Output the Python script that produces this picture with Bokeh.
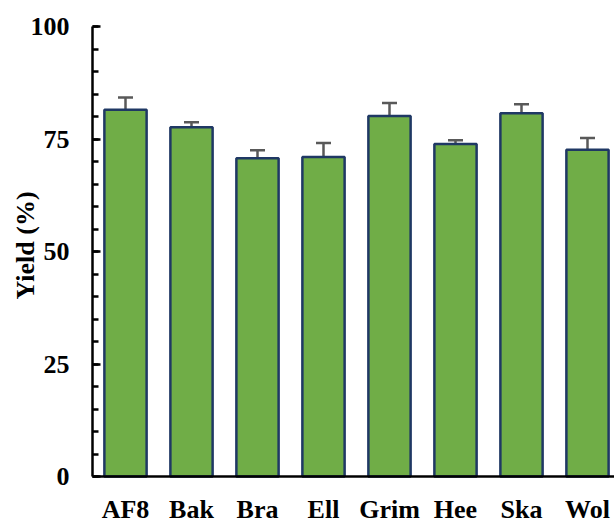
import math
from bokeh.plotting import figure
from bokeh.models import (ColumnDataSource, Range1d, FixedTicker, SingleIntervalTicker,
                          Whisker, TeeHead, Label)
from bokeh.embed import file_html
from bokeh.resources import INLINE

categories = ["AF8", "Bak", "Bra", "Ell", "Grim", "Hee", "Ska", "Wol"]
yield_pct = [81.5, 77.6, 70.7, 71.0, 80.1, 73.9, 80.7, 72.6]
yield_err = [2.7, 1.1, 1.8, 3.1, 2.9, 0.8, 2.0, 2.6]
y_ticks = [0, 25, 50, 75, 100]

xs = list(range(len(categories)))
src = ColumnDataSource(dict(
    x=xs,
    top=yield_pct,
    upper=[v + e for v, e in zip(yield_pct, yield_err)],
    lower=[v - e for v, e in zip(yield_pct, yield_err)],
))

FONT = "'Liberation Serif', 'Times New Roman', serif"

# geometry (pixels) -> ranges; the frame covers the whole canvas
W, H = 614, 519
AX_LEFT, AX_TOP, AX_BOTTOM = 92, 26, 476
px_per_cat = 66.0
px_per_unit = (AX_BOTTOM - AX_TOP) / (y_ticks[-1] - y_ticks[0])
x_lo = -0.5
x_start = x_lo - AX_LEFT / px_per_cat
x_end = x_lo + (W - AX_LEFT) / px_per_cat
y_end = y_ticks[-1] + AX_TOP / px_per_unit
y_start = y_ticks[0] - (H - AX_BOTTOM) / px_per_unit

p = figure(width=W, height=H, output_backend="svg", toolbar_location=None,
           x_range=Range1d(x_start, x_end), y_range=Range1d(y_start, y_end))
p.min_border_left = 0
p.min_border_right = 0
p.min_border_top = 0
p.min_border_bottom = 0
p.outline_line_color = None
p.xgrid.visible = False
p.ygrid.visible = False
p.background_fill_color = "white"
p.border_fill_color = "white"

p.vbar(x="x", top="top", bottom=0, width=0.64, source=src,
       fill_color="#70AD47", line_color="#1F3864", line_width=2.5)

w = Whisker(source=src, base="x", upper="upper", lower="lower",
            line_color="#595959", line_width=2.5,
            upper_head=TeeHead(size=15, line_color="#595959", line_width=2.5),
            lower_head=TeeHead(size=15, line_color="#595959", line_width=2.5))
p.add_layout(w)

# x axis pinned at y = 0
xa = p.xaxis[0]
xa.fixed_location = y_ticks[0]
xa.bounds = (x_lo, x_end)
xa.ticker = FixedTicker(ticks=xs)
xa.major_label_overrides = {i: c for i, c in zip(xs, categories)}
xa.major_tick_line_color = None
xa.minor_tick_line_color = None
xa.axis_line_color = "black"
xa.axis_line_width = 2.5
xa.major_label_standoff = 12
xa.major_label_text_font = FONT
xa.major_label_text_font_style = "bold"
xa.major_label_text_font_size = "26px"
xa.major_label_text_color = "black"

# y axis pinned at the left edge of the first category
ya = p.yaxis[0]
ya.fixed_location = x_lo
ya.bounds = (y_ticks[0], y_ticks[-1])
ya.ticker = SingleIntervalTicker(interval=25, num_minor_ticks=5)
ya.axis_line_color = "black"
ya.axis_line_width = 2.5
ya.major_tick_in = 8
ya.major_tick_out = 0
ya.minor_tick_in = 6
ya.minor_tick_out = 0
ya.major_tick_line_width = 2.5
ya.minor_tick_line_width = 2.5
ya.major_tick_line_color = "black"
ya.minor_tick_line_color = "black"
ya.major_label_standoff = 23
ya.major_label_text_font = FONT
ya.major_label_text_font_style = "bold"
ya.major_label_text_font_size = "26px"
ya.major_label_text_color = "black"

ylab = Label(x=25, x_units="screen", y=(y_ticks[0] + y_ticks[-1]) / 2, y_units="data",
             y_offset=6, text="Yield (%)", angle=math.pi / 2,
             text_align="center", text_baseline="middle",
             text_font=FONT, text_font_style="bold", text_font_size="26px",
             text_color="black")
p.add_layout(ylab)

open("out.html", "w").write(file_html(p, INLINE))
